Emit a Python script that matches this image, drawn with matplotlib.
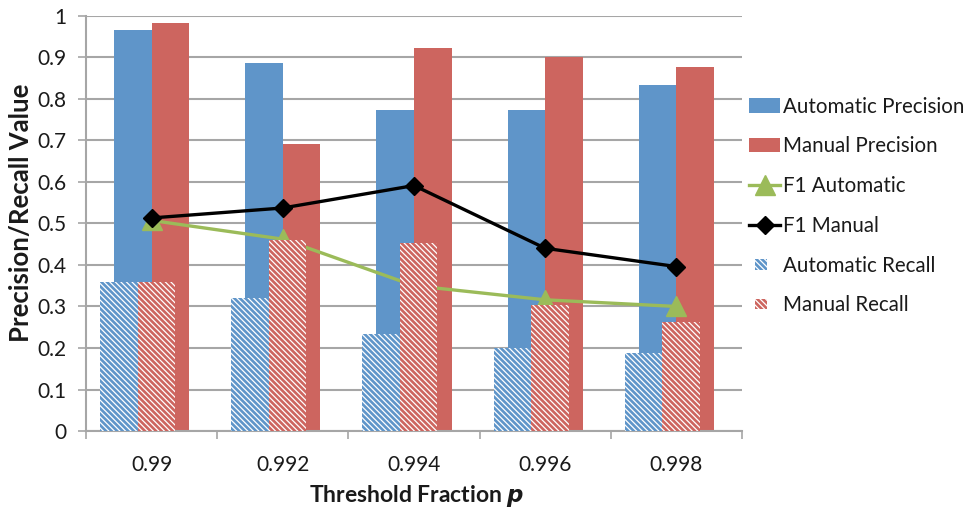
import numpy as np
import matplotlib
matplotlib.use("Agg")
import matplotlib.pyplot as plt
from matplotlib.patches import Rectangle
from matplotlib.legend_handler import HandlerPatch

thresholds = ["0.99", "0.992", "0.994", "0.996", "0.998"]
auto_precision = [0.966, 0.887, 0.773, 0.773, 0.833]
manual_precision = [0.982, 0.690, 0.922, 0.900, 0.876]
auto_recall = [0.358, 0.320, 0.233, 0.201, 0.187]
manual_recall = [0.358, 0.460, 0.452, 0.303, 0.262]
f1_auto = [0.507, 0.462, 0.350, 0.316, 0.300]
f1_manual = [0.513, 0.537, 0.591, 0.440, 0.396]

BLUE = "#5F95C9"
RED = "#CD655F"
GREEN = "#9BBB59"
GRID = "#A6A6A6"
TEXT = "#1A1A1A"

plt.rcParams["font.family"] = ["Lato", "DejaVu Sans"]
plt.rcParams["hatch.linewidth"] = 0.9
plt.rcParams["hatch.color"] = "white"


class SmallSquare(HandlerPatch):
    """Legend handle drawn as a small square for the recall series."""
    def create_artists(self, legend, orig_handle, xdescent, ydescent,
                       width, height, fontsize, trans):
        side = height * 0.75
        p = Rectangle((-xdescent + 0.2 * width, -ydescent + (height - side) / 2),
                      side * 1.1, side, facecolor=orig_handle.get_facecolor(),
                      hatch=orig_handle.get_hatch(), edgecolor="white",
                      linewidth=0, transform=trans)
        return [p]


fig = plt.figure(figsize=(9.64, 5.12), dpi=100)
ax = fig.add_axes([0.0892, 0.158, 0.6805, 0.8115])

x = np.arange(len(thresholds))
w = 0.286
shift = -0.107

b1 = ax.bar(x - w / 2, auto_precision, w, color=BLUE, zorder=2)
b2 = ax.bar(x + w / 2, manual_precision, w, color=RED, zorder=2)
l1, = ax.plot(x, f1_auto, color=GREEN, lw=2.4, marker="^", ms=14, zorder=3)
l2, = ax.plot(x, f1_manual, color="black", lw=2.4, marker="D", ms=9.5,
              zorder=3)
b3 = ax.bar(x + shift - w / 2, auto_recall, w, color=BLUE,
            hatch="\\\\\\\\\\\\", edgecolor="white", linewidth=0, zorder=4)
b4 = ax.bar(x + shift + w / 2, manual_recall, w, color=RED,
            hatch="\\\\\\\\\\\\", edgecolor="white", linewidth=0, zorder=4)

ax.set_xlim(-0.5, len(thresholds) - 0.5)
ax.set_ylim(0, 1)
ax.set_yticks(np.arange(0, 1.01, 0.1))
ax.set_yticklabels(["0", "0.1", "0.2", "0.3", "0.4", "0.5", "0.6", "0.7",
                    "0.8", "0.9", "1"])
ax.set_xticks(x)
ax.set_xticklabels(thresholds)
ax.set_xticks(np.arange(-0.5, len(thresholds)), minor=True)
ax.tick_params(axis="x", which="major", length=0, pad=17, labelsize=15,
               labelcolor=TEXT)
ax.tick_params(axis="x", which="minor", length=6, color=GRID, width=1.2)
ax.tick_params(axis="y", length=6, color=GRID, width=1.2, labelsize=15,
               pad=8, labelcolor=TEXT)
ax.yaxis.grid(True, color=GRID, lw=1.5, zorder=0)
ax.set_axisbelow(True)
for side in ("top", "right"):
    ax.spines[side].set_visible(False)
for side in ("left", "bottom"):
    ax.spines[side].set_color(GRID)
    ax.spines[side].set_linewidth(1.5)

ax.set_ylabel("Precision/Recall Value", fontsize=18.5, fontweight="bold",
              color=TEXT)
ax.yaxis.set_label_coords(-0.0808, 0.525)
ax.set_xlabel(r"Threshold Fraction $\boldsymbol{p}$", fontsize=16.5,
              fontweight="bold", color=TEXT)
ax.xaxis.set_label_coords(0.504, -0.125)

ax.legend(handles=[b1, b2, l1, l2, b3.patches[0], b4.patches[0]],
          labels=["Automatic Precision", "Manual Precision", "F1 Automatic",
                  "F1 Manual", "Automatic Recall", "Manual Recall"],
          loc="center left", bbox_to_anchor=(1.0, 0.542), frameon=False,
          fontsize=14.8, handlelength=1.5, handletextpad=0.15,
          labelspacing=0.96, borderaxespad=0, borderpad=0.35,
          labelcolor=TEXT,
          handler_map={b3.patches[0]: SmallSquare(),
                       b4.patches[0]: SmallSquare()})

fig.savefig("out.png", dpi=100)
